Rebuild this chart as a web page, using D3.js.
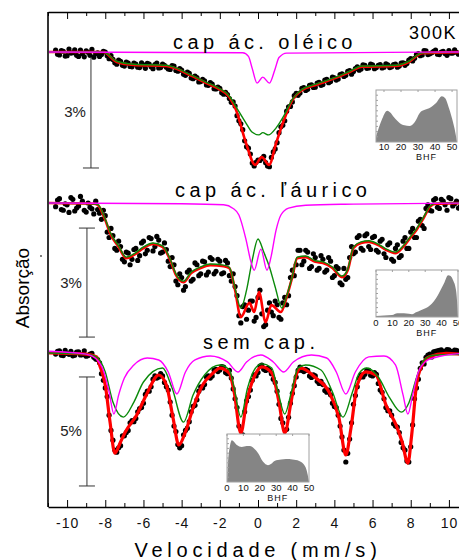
<!DOCTYPE html>
<html>
<head>
<meta charset="utf-8">
<script src="https://cdn.jsdelivr.net/npm/d3@7"></script>
<style>
body { margin: 0; background: #fff; }
svg { display: block; font-family: "Liberation Sans", Arial, sans-serif; }
</style>
</head>
<body>
<div id="chart"></div>
<script>
//CONSTANTS
var W = 459, H = 560;
// channel grids of the spectra (mm/s): even channels start at -10.6, odd at -10.5
var velStartA = -10.6, velStartB = -10.5, velStep = 0.2;

// measured absorption (%) per channel
var obsOleicoA = [
  -0.05, 0.08, -0.02, 0.10, 0.03, -0.06, 0.12, 0.05, -0.03, 0.09,
  0.14, 0.02, 0.07, 0.00, 0.18, 0.20, 0.33, 0.25, 0.38, 0.30,
  0.40, 0.33, 0.42, 0.35, 0.31, 0.40, 0.34, 0.43, 0.33, 0.41,
  0.47, 0.38, 0.52, 0.49, 0.63, 0.58, 0.72, 0.69, 0.80, 0.78,
  0.90, 0.87, 1.00, 0.98, 1.14, 1.15, 1.36, 1.46, 1.86, 2.10,
  2.56, 2.76, 3.08, 2.92, 2.88, 2.99, 3.10, 2.70, 2.45, 2.02,
  1.86, 1.48, 1.35, 1.12, 1.11, 0.96, 1.01, 0.89, 0.95, 0.82,
  0.88, 0.74, 0.80, 0.70, 0.73, 0.59, 0.63, 0.50, 0.53, 0.40,
  0.46, 0.36, 0.43, 0.35, 0.42, 0.34, 0.41, 0.35, 0.40, 0.33,
  0.38, 0.29, 0.31, 0.18, 0.17, 0.04, 0.08, -0.03, 0.05, -0.02,
  0.06, 0.00, 0.04, -0.04, 0.03, 0.01, 0.05
];
var obsOleicoB = [
  0.06, -0.04, 0.11, -0.08, 0.02, 0.09, -0.05, 0.13, 0.01, -0.07,
  0.05, 0.12, -0.02, 0.10, 0.10, 0.29, 0.22, 0.36, 0.27, 0.39,
  0.30, 0.41, 0.29, 0.44, 0.33, 0.45, 0.30, 0.42, 0.36, 0.46,
  0.37, 0.50, 0.45, 0.60, 0.54, 0.70, 0.65, 0.81, 0.74, 0.89,
  0.83, 0.99, 0.95, 1.10, 1.09, 1.26, 1.35, 1.72, 1.94, 2.40,
  2.60, 3.00, 2.98, 2.93, 2.82, 3.08, 2.85, 2.62, 2.18, 1.98,
  1.60, 1.47, 1.18, 1.17, 0.98, 1.04, 0.90, 0.96, 0.84, 0.90,
  0.76, 0.83, 0.68, 0.76, 0.61, 0.66, 0.52, 0.60, 0.45, 0.49,
  0.35, 0.44, 0.33, 0.45, 0.36, 0.43, 0.32, 0.42, 0.34, 0.41,
  0.30, 0.36, 0.22, 0.24, 0.07, 0.10, -0.04, 0.07, 0.02, -0.05,
  0.07, -0.02, 0.09, 0.03, -0.06, 0.06, 0.02
];
var obsLauricoA = [
  0.10, -0.12, 0.20, 0.05, -0.15, 0.22, 0.08, -0.05, 0.25, 0.12,
  0.30, 0.18, 0.45, 0.35, 0.95, 0.90, 1.30, 1.20, 1.62, 1.38,
  1.55, 1.25, 1.45, 1.05, 1.30, 0.98, 1.20, 1.02, 1.35, 1.28,
  1.75, 1.70, 2.25, 2.05, 2.30, 1.85, 2.10, 1.70, 1.95, 1.62,
  1.90, 1.55, 1.88, 1.60, 1.92, 1.65, 2.15, 2.30, 3.10, 2.85,
  3.20, 2.70, 3.25, 2.60, 3.05, 3.35, 2.75, 3.10, 2.80, 3.20,
  2.60, 2.55, 1.85, 1.70, 1.30, 1.60, 1.35, 1.75, 1.50, 1.80,
  1.55, 1.85, 1.60, 2.00, 1.80, 2.25, 2.10, 1.50, 1.40, 0.95,
  1.25, 0.90, 1.20, 0.95, 1.30, 1.05, 1.40, 1.15, 1.55, 1.25,
  1.50, 1.05, 1.25, 0.80, 0.95, 0.50, 0.62, 0.15, 0.20, -0.08,
  0.12, -0.10, 0.05, -0.15, 0.08, -0.05, 0.10
];
var obsLauricoB = [
  -0.08, 0.18, 0.02, 0.26, -0.10, 0.14, -0.18, 0.20, 0.00, 0.16,
  -0.05, 0.28, 0.20, 0.80, 0.70, 1.25, 1.05, 1.55, 1.35, 1.70,
  1.28, 1.58, 1.10, 1.40, 0.95, 1.32, 0.92, 1.38, 1.10, 1.60,
  1.50, 2.15, 1.95, 2.40, 1.90, 2.15, 1.65, 2.00, 1.60, 1.98,
  1.50, 1.95, 1.55, 1.95, 1.58, 2.00, 1.95, 2.55, 3.30, 2.80,
  2.95, 2.70, 3.15, 2.40, 3.40, 2.95, 3.00, 2.70, 3.15, 2.75,
  2.80, 2.05, 2.00, 1.30, 1.70, 1.30, 1.80, 1.40, 1.85, 1.45,
  1.90, 1.50, 2.05, 1.75, 2.20, 1.80, 2.05, 1.20, 1.35, 0.90,
  1.30, 0.85, 1.28, 0.92, 1.35, 1.00, 1.50, 1.10, 1.60, 1.15,
  1.45, 0.95, 1.25, 0.70, 0.95, 0.45, 0.70, 0.05, 0.22, -0.12,
  0.15, -0.05, 0.20, -0.12, 0.02, 0.14, -0.08
];
var obsSemCapA = [
  0.05, -0.10, 0.12, 0.02, -0.08, 0.10, -0.05, 0.08, 0.15, 0.05,
  0.20, 0.30, 0.95, 1.60, 2.85, 4.00, 4.55, 4.25, 3.80, 3.55,
  3.10, 3.00, 2.55, 2.30, 1.75, 1.55, 1.05, 1.10, 1.05, 1.55,
  2.25, 3.35, 4.20, 4.25, 3.55, 3.15, 2.45, 2.15, 1.55, 1.45,
  1.05, 1.05, 0.75, 0.78, 0.65, 0.95, 1.15, 2.10, 3.35, 3.75,
  2.20, 1.70, 1.00, 0.90, 0.55, 0.80, 0.78, 1.20, 1.75, 3.00,
  3.85, 2.95, 1.85, 1.10, 0.65, 0.85, 0.80, 1.12, 1.05, 1.40,
  1.45, 1.80, 1.92, 2.45, 2.85, 3.85, 5.00, 3.95, 2.35, 1.55,
  1.00, 0.98, 0.80, 1.05, 0.98, 1.70, 2.10, 2.65, 2.85, 3.35,
  3.65, 4.35, 4.95, 4.30, 2.10, 1.20, 0.45, 0.20, 0.05, -0.05,
  -0.10, -0.15, -0.08, -0.14, -0.05, -0.12, -0.10
];
var obsSemCapB = [
  -0.08, 0.10, -0.12, 0.06, 0.13, -0.04, 0.09, -0.10, 0.12, 0.02,
  0.28, 0.45, 1.25, 2.00, 3.55, 4.45, 4.35, 3.80, 3.65, 3.20,
  3.15, 2.70, 2.50, 1.90, 1.75, 1.20, 1.15, 0.95, 1.35, 1.70,
  2.85, 3.60, 4.35, 3.75, 3.45, 2.70, 2.40, 1.75, 1.60, 1.10,
  1.15, 0.78, 0.85, 0.62, 0.90, 0.80, 1.65, 2.50, 3.85, 2.70,
  2.00, 1.25, 1.05, 0.60, 0.75, 0.70, 0.95, 1.35, 2.35, 3.20,
  3.50, 2.30, 1.50, 0.80, 0.80, 0.75, 1.05, 1.00, 1.30, 1.30,
  1.72, 1.70, 2.30, 2.50, 3.35, 4.45, 4.60, 3.20, 1.95, 1.15,
  1.10, 0.80, 1.02, 0.90, 1.40, 1.80, 2.50, 2.65, 3.25, 3.40,
  4.10, 4.45, 5.00, 3.30, 1.60, 0.70, 0.50, 0.10, 0.18, -0.08,
  -0.12, -0.05, -0.16, -0.08, -0.13, -0.02, -0.11
];

// fitted curves [velocity, absorption %]
var totalOleico = [[-11,0],[-8.1,0],[-7.4,0.27],[-6.5,0.35],[-4.8,0.38],[-4.45,0.42],[-3.7,0.59],[-2.7,0.84],[-2.15,0.97],[-1.5,1.22],[-1.15,1.57],[-0.63,2.46],[-0.15,3.05],[0.2,2.84],[0.58,3.05],[0.95,2.46],[1.36,1.84],[1.8,1.30],[2.3,1.03],[3.03,0.89],[4.08,0.70],[4.8,0.54],[5.45,0.40],[7.2,0.38],[7.9,0.27],[8.6,0.03],[11,0]];
var distOleico = [[-11,0],[-8.1,0],[-7.4,0.25],[-6.5,0.33],[-4.8,0.36],[-4.45,0.40],[-3.7,0.57],[-2.7,0.82],[-2.15,0.95],[-1.5,1.19],[-1.15,1.48],[-0.63,1.92],[-0.3,2.17],[0.05,2.24],[0.25,2.18],[0.55,2.24],[0.95,2.05],[1.36,1.72],[1.8,1.28],[2.3,1.01],[3.03,0.87],[4.08,0.68],[4.8,0.52],[5.45,0.38],[7.2,0.36],[7.9,0.25],[8.6,0.02],[11,0]];
var dubOleico = [[-11,0],[-0.8,0.02],[-0.5,0.12],[-0.3,0.45],[-0.05,0.84],[0.25,0.68],[0.6,0.84],[0.9,0.45],[1.1,0.15],[1.5,0.03],[11,0]];

var totalLaurico = [[-11,0],[-8.6,0.02],[-8.4,0.05],[-8.0,0.47],[-7.75,0.83],[-7.3,1.21],[-6.9,1.52],[-6.5,1.43],[-6.0,1.24],[-5.5,1.13],[-5.0,1.21],[-4.6,1.57],[-4.3,1.98],[-3.9,2.18],[-3.5,1.93],[-3.0,1.79],[-2.5,1.71],[-1.8,1.74],[-1.5,1.79],[-1.2,2.40],[-0.9,3.14],[-0.45,2.75],[-0.2,3.00],[0.05,2.45],[0.4,3.28],[0.7,2.81],[1.2,3.00],[1.5,2.59],[1.8,2.03],[2.05,1.52],[2.5,1.49],[3.0,1.62],[3.4,1.65],[3.9,1.79],[4.4,2.04],[4.7,1.85],[5.0,1.24],[5.4,1.10],[5.8,1.07],[6.3,1.16],[6.7,1.29],[7.2,1.38],[7.6,1.21],[8.0,0.94],[8.3,0.74],[8.7,0.39],[9.0,0.11],[9.3,0.02],[11,0]];
var distLaurico = [[-11,0],[-8.6,0.02],[-8.4,0.04],[-8.0,0.44],[-7.75,0.80],[-7.3,1.18],[-6.9,1.49],[-6.5,1.40],[-6.0,1.21],[-5.5,1.10],[-5.0,1.18],[-4.6,1.54],[-4.3,1.95],[-3.9,2.15],[-3.5,1.90],[-3.0,1.76],[-2.5,1.68],[-1.8,1.71],[-1.5,1.77],[-1.2,2.35],[-0.9,2.89],[-0.6,2.40],[-0.3,1.57],[0.0,0.99],[0.3,1.35],[0.6,1.76],[0.9,2.31],[1.25,2.89],[1.5,2.56],[1.8,2.01],[2.05,1.49],[2.5,1.46],[3.0,1.59],[3.4,1.62],[3.9,1.76],[4.4,2.01],[4.7,1.82],[5.0,1.21],[5.4,1.07],[5.8,1.04],[6.3,1.13],[6.7,1.26],[7.2,1.35],[7.6,1.18],[8.0,0.91],[8.3,0.71],[8.7,0.36],[9.0,0.09],[9.3,0.01],[11,0]];
var dubLaurico = [[-11,0],[-4,0.02],[-1.8,0.05],[-1.3,0.15],[-1.0,0.33],[-0.63,1.0],[-0.37,1.62],[-0.2,1.85],[0.15,1.27],[0.47,1.85],[0.68,1.49],[0.95,0.74],[1.2,0.33],[1.6,0.14],[2.5,0.06],[5,0.03],[11,0]];

var totalSemCap = [[-11,0],[-9,0.05],[-8.45,0.18],[-8.3,0.55],[-8.0,1.47],[-7.75,3.17],[-7.5,4.59],[-7.2,4.08],[-6.95,3.62],[-6.35,2.84],[-5.8,1.83],[-5.2,1.01],[-4.8,1.47],[-4.45,2.98],[-4.15,4.22],[-3.8,3.62],[-3.4,2.52],[-2.9,1.47],[-2.35,0.92],[-2.0,0.69],[-1.5,0.92],[-1.25,1.79],[-0.9,3.67],[-0.6,2.25],[-0.2,1.10],[0.2,0.64],[0.72,0.92],[1.1,2.25],[1.4,3.67],[1.73,2.25],[2.0,1.01],[2.25,0.69],[3.03,1.15],[3.72,1.79],[4.24,2.98],[4.6,4.68],[4.87,3.44],[5.2,1.47],[5.65,0.87],[6.18,1.01],[6.7,2.38],[7.23,3.30],[7.55,4.08],[7.85,5.05],[8.05,3.76],[8.3,1.47],[8.6,0.55],[8.95,0.18],[9.85,0.02],[11,0.08]];
var distSemCap = [[-11,0],[-9,0.05],[-8.5,0.15],[-8.0,0.87],[-7.6,2.25],[-7.05,2.94],[-6.5,2.25],[-6.0,1.33],[-5.0,0.69],[-4.5,1.61],[-3.9,3.17],[-3.4,1.93],[-2.8,1.01],[-2.0,0.55],[-1.5,0.78],[-1.25,1.61],[-0.9,2.94],[-0.55,1.61],[-0.2,0.78],[0.2,0.50],[0.72,0.69],[1.05,1.79],[1.4,2.80],[1.75,1.79],[2.1,0.69],[2.5,0.55],[3.3,0.78],[3.9,1.79],[4.45,2.94],[4.95,1.79],[5.3,0.92],[5.7,0.69],[6.3,1.10],[6.9,2.06],[7.5,2.71],[7.9,2.29],[8.3,1.15],[8.7,0.32],[9.2,0.10],[11,0.05]];
var sextSemCap = [[-11,-0.08],[-9,0.05],[-8.5,0.25],[-8.1,0.8],[-7.8,1.79],[-7.55,2.80],[-7.3,1.93],[-7.0,1.15],[-6.5,0.55],[-5.8,0.23],[-5.2,0.32],[-4.7,0.87],[-4.25,1.88],[-3.8,0.87],[-3.3,0.32],[-2.5,0.14],[-1.6,0.41],[-1.05,0.87],[-0.6,0.41],[0.15,0.09],[0.8,0.41],[1.35,0.87],[1.85,0.41],[2.8,0.09],[3.6,0.23],[4.1,0.87],[4.6,1.88],[5.1,0.87],[5.8,0.18],[6.6,0.14],[7.2,0.55],[7.6,1.93],[7.85,2.80],[8.1,1.93],[8.4,0.87],[8.9,0.32],[9.6,0.14],[11,0.0]];

// hyperfine field distributions [BHF (T), relative probability]
var bhfOleico = [[5.3,0.10],[7,0.28],[9,0.45],[10.5,0.56],[12,0.6],[13.5,0.57],[16,0.47],[19,0.37],[22,0.32],[25,0.31],[28,0.38],[31,0.56],[34,0.62],[36.5,0.65],[40.6,0.75],[44,0.88],[46,0.84],[48,0.67],[50,0.45],[52,0.17],[52.9,0]];
var bhfLaurico = [[0,0.02],[5,0.03],[9.8,0.04],[13,0.08],[17,0.08],[20,0.07],[22,0.06],[24.4,0.1],[27,0.14],[30.5,0.19],[34,0.28],[36.6,0.4],[39,0.55],[41.5,0.72],[44,0.89],[45.5,0.87],[47,0.78],[48.8,0.57],[49.6,0.25],[50,0]];
var bhfSemCap = [[0,0],[0.6,0.4],[1.8,0.75],[3,0.87],[4.5,0.83],[6,0.77],[9,0.73],[12,0.75],[14,0.75],[16.5,0.7],[19,0.6],[22,0.42],[25,0.35],[27,0.38],[29,0.44],[33,0.47],[36,0.48],[40,0.47],[44,0.44],[46.5,0.38],[48.5,0.25],[49.5,0.1],[50,0]];

var velMajor = [-10, -8, -6, -4, -2, 0, 2, 4, 6, 8, 10];
var velMinor = [-11, -9, -7, -5, -3, -1, 1, 3, 5, 7, 9, 11];
var bhfLabels1 = [10, 20, 30, 40, 50];
var bhfLabels = [0, 10, 20, 30, 40, 50];

var panels = [
  {title: 'cap ác. oléico', tx: 173, ty: 49, obs: [obsOleicoA, obsOleicoB], red: totalOleico, green: distOleico, pink: dubOleico,
   redW: 2.6, dom: [0, 3], rng: [52, 163], bar: {v: -8.75, from: 0.135, pct: 3, label: '3%', capTop: false},
   inset: {x: [376, 457], d: [5.3, 52.9], y: [90, 142], hist: bhfOleico, labels: bhfLabels1, ly: 150, by: 160, bx: 35}},
  {title: 'cap ác. ľáurico', tx: 175, ty: 197, obs: [obsLauricoA, obsLauricoB], red: totalLaurico, green: distLaurico, pink: dubLaurico,
   redW: 2.6, dom: [0, 3], rng: [203, 312], bar: {v: -8.96, from: 0.69, pct: 3, label: '3%', capTop: true},
   inset: {x: [376, 458], d: [0, 50], y: [270, 317], hist: bhfLaurico, labels: bhfLabels, ly: 326, by: 336, bx: 31}},
  {title: 'sem cap.', tx: 203, ty: 349, obs: [obsSemCapA, obsSemCapB], red: totalSemCap, green: distSemCap, pink: sextSemCap,
   redW: 3.2, dom: [0, 5], rng: [353, 462], bar: {v: -8.96, from: 1.1, pct: 5, label: '5%', capTop: true},
   inset: {x: [227, 309], d: [0, 50], y: [434, 482], hist: bhfSemCap, labels: bhfLabels, ly: 491, by: 501, bx: 31}}
];

var svg = d3.select('#chart').append('svg').attr('width', W).attr('height', H);
svg.append('rect').attr('width', W).attr('height', H).attr('fill', '#fff');

var x = d3.scaleLinear().domain([-11, 11]).range([48, 468]);
var frameTop = 12, frameBottom = 507;

svg.append('defs').append('clipPath').attr('id', 'clip')
  .append('rect').attr('x', 49).attr('y', frameTop + 1).attr('width', 420).attr('height', frameBottom - frameTop - 1);

var plot = svg.append('g').attr('clip-path', 'url(#clip)');
var overlay = svg.append('g');

panels.forEach(function(p) {
  var y = d3.scaleLinear().domain(p.dom).range(p.rng);
  var line = d3.line()
    .x(function(d) { return x(d[0]); })
    .y(function(d) { return y(d[1]); })
    .curve(d3.curveMonotoneX);
  var g = plot.append('g');

  [velStartA, velStartB].forEach(function(v0, k) {
    g.append('g').selectAll('circle').data(p.obs[k]).enter().append('circle')
      .attr('cx', function(d, i) { return x(v0 + i * velStep); })
      .attr('cy', function(d) { return y(d); })
      .attr('r', 2.6)
      .attr('fill', '#000');
  });

  g.append('path').attr('d', line(p.red)).attr('fill', 'none')
    .attr('stroke', '#ff0000').attr('stroke-width', p.redW);
  g.append('path').attr('d', line(p.green)).attr('fill', 'none')
    .attr('stroke', '#0a8a0a').attr('stroke-width', 1.4);
  g.append('path').attr('d', line(p.pink)).attr('fill', 'none')
    .attr('stroke', '#ff00ff').attr('stroke-width', 1.4);

  // scale bar
  var bx = x(p.bar.v), y0 = y(p.bar.from), y1 = y(p.bar.from + p.bar.pct);
  var bar = overlay.append('g').attr('stroke', '#333').attr('stroke-width', 1);
  bar.append('line').attr('x1', bx).attr('x2', bx).attr('y1', y0).attr('y2', y1);
  bar.append('line').attr('x1', bx - 8).attr('x2', bx + 8).attr('y1', y1).attr('y2', y1);
  if (p.bar.capTop) {
    bar.append('line').attr('x1', bx - 8).attr('x2', bx + 8).attr('y1', y0).attr('y2', y0);
  }
  overlay.append('text').attr('x', bx - 5).attr('y', (y0 + y1) / 2 + 5)
    .attr('text-anchor', 'end').attr('font-size', 15).attr('fill', '#222')
    .text(p.bar.label);

  // title
  overlay.append('text').attr('x', p.tx).attr('y', p.ty)
    .attr('font-size', 20).style('letter-spacing', '4.4px').attr('fill', '#000')
    .text(p.title);

  // BHF inset
  var ins = p.inset;
  var ix = d3.scaleLinear().domain(ins.d).range(ins.x);
  var iy = d3.scaleLinear().domain([0, 1]).range([ins.y[1], ins.y[0]]);
  var ig = overlay.append('g');
  ig.append('rect').attr('x', ins.x[0]).attr('y', ins.y[0])
    .attr('width', ins.x[1] - ins.x[0]).attr('height', ins.y[1] - ins.y[0])
    .attr('fill', '#fff');
  var area = d3.area()
    .x(function(d) { return ix(d[0]); })
    .y0(iy(0))
    .y1(function(d) { return iy(d[1]); })
    .curve(d3.curveMonotoneX);
  ig.append('path').attr('d', area(ins.hist)).attr('fill', '#858585');
  ig.append('rect').attr('x', ins.x[0]).attr('y', ins.y[0])
    .attr('width', ins.x[1] - ins.x[0]).attr('height', ins.y[1] - ins.y[0])
    .attr('fill', 'none').attr('stroke', '#a0a0a0').attr('stroke-width', 1);
  ig.selectAll('.lt').data(d3.range(1, 10)).enter().append('line')
    .attr('x1', ins.x[0]).attr('x2', ins.x[0] + 2)
    .attr('y1', function(d) { return ins.y[0] + (ins.y[1] - ins.y[0]) * d / 10; })
    .attr('y2', function(d) { return ins.y[0] + (ins.y[1] - ins.y[0]) * d / 10; })
    .attr('stroke', '#a0a0a0');
  ig.selectAll('.tt').data(ins.labels).enter().append('line')
    .attr('x1', function(d) { return ix(d); }).attr('x2', function(d) { return ix(d); })
    .attr('y1', ins.y[0]).attr('y2', ins.y[0] + 2)
    .attr('stroke', '#a0a0a0');
  ig.selectAll('.tl').data(ins.labels).enter().append('text')
    .attr('x', function(d) { return ix(d); }).attr('y', ins.ly)
    .attr('text-anchor', 'middle').attr('font-size', 9.5).attr('fill', '#111')
    .text(function(d) { return d; });
  ig.append('text').attr('x', ix(ins.bx)).attr('y', ins.by)
    .attr('text-anchor', 'middle').attr('font-size', 9).style('letter-spacing', '1px')
    .attr('fill', '#111').text('BHF');
});

// frame and velocity axes
var xb = svg.append('g').attr('transform', 'translate(0,' + frameBottom + ')')
  .call(d3.axisBottom(x).tickValues(velMajor).tickSizeInner(-7).tickSizeOuter(0).tickPadding(11)
    .tickFormat(function(d) { return String(d); }));
xb.select('.domain').attr('stroke-width', 1.6);
xb.selectAll('text').attr('font-size', 14).attr('font-family', '"Liberation Sans", Arial, sans-serif')
  .style('letter-spacing', '1px').attr('fill', '#111');
svg.append('g').attr('transform', 'translate(0,' + frameBottom + ')')
  .call(d3.axisBottom(x).tickValues(velMinor).tickSizeInner(-4).tickSizeOuter(0).tickFormat(''))
  .select('.domain').remove();

var xt = svg.append('g').attr('transform', 'translate(0,' + frameTop + ')')
  .call(d3.axisTop(x).tickValues(velMajor).tickSizeInner(-7).tickSizeOuter(0).tickFormat(''));
xt.select('.domain').attr('stroke-width', 1.6);
svg.append('g').attr('transform', 'translate(0,' + frameTop + ')')
  .call(d3.axisTop(x).tickValues(velMinor).tickSizeInner(-4).tickSizeOuter(0).tickFormat(''))
  .select('.domain').remove();

svg.append('line').attr('x1', 48).attr('x2', 48).attr('y1', frameTop).attr('y2', frameBottom)
  .attr('stroke', '#000').attr('stroke-width', 1.6);

svg.append('text').attr('x', 409).attr('y', 39)
  .attr('font-size', 18).style('letter-spacing', '1.5px').text('300K');

svg.append('text').attr('x', 258).attr('y', 557)
  .attr('text-anchor', 'middle').attr('font-size', 20).style('letter-spacing', '4.8px')
  .text('Velocidade (mm/s)');

svg.append('text').attr('transform', 'translate(29,288) rotate(-90)')
  .attr('text-anchor', 'middle').attr('font-size', 19).text('Absorção');
svg.append('circle').attr('cx', 41).attr('cy', 256).attr('r', 0.9).attr('fill', '#444');
</script>
</body>
</html>
